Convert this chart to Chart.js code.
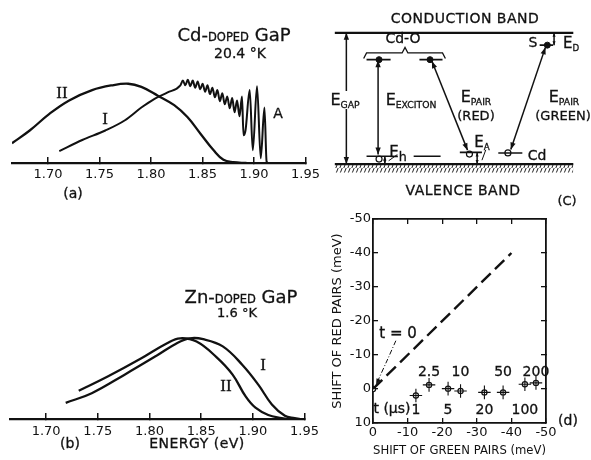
<!DOCTYPE html>
<html>
<head>
<meta charset="utf-8">
<title>GaP pair spectra</title>
<script src="https://cdn.jsdelivr.net/npm/chart.js@4.4.1/dist/chart.umd.min.js"></script>
<style>
  html, body { margin: 0; padding: 0; background: #fff; }
  body { position: relative; width: 591px; height: 460px; overflow: hidden;
         font-family: 'DejaVu Sans', sans-serif; color: #111; }
  canvas { position: absolute; }
  .t { position: absolute; white-space: nowrap; transform: translate(-50%, -50%); line-height: 1;
       z-index: 2; -webkit-text-stroke: 0.3px #111; }
  .sc { font-size: 0.64em; }
  .sub { font-size: 0.58em; position: relative; top: 0.3em; }
  .rom { font-family: 'Liberation Serif', serif; font-size: 17px; }
  .wb { background: #fff; padding: 1px 0; }
</style>
</head>
<body>
<canvas id="chartA" width="330" height="200" style="left:0;top:0"></canvas>
<canvas id="chartB" width="330" height="230" style="left:0;top:230px"></canvas>
<canvas id="chartC" width="271" height="215" style="left:320px;top:0"></canvas>
<canvas id="chartD" width="266" height="260" style="left:325px;top:200px"></canvas>

<!-- (a) -->
<div class="t" style="left:234px;top:35px;font-size:18px">Cd-<span class="sc">DOPED</span> GaP</div>
<div class="t" style="left:240px;top:53px;font-size:14px">20.4 °K</div>
<div class="t rom" style="left:62px;top:92px">II</div>
<div class="t rom" style="left:105px;top:118px">I</div>
<div class="t" style="left:278px;top:113px;font-size:14px">A</div>
<div class="t" style="left:73px;top:193px;font-size:14px">(a)</div>

<!-- (b) -->
<div class="t" style="left:241px;top:297px;font-size:18px">Zn-<span class="sc">DOPED</span> GaP</div>
<div class="t" style="left:237px;top:312px;font-size:13px">1.6 °K</div>
<div class="t rom" style="left:263px;top:364px">I</div>
<div class="t rom" style="left:226px;top:385px">II</div>
<div class="t" style="left:70px;top:443px;font-size:14px">(b)</div>
<div class="t" style="left:197px;top:443px;font-size:14px;letter-spacing:0.5px">ENERGY (eV)</div>

<!-- (c) -->
<div class="t" style="left:465px;top:18px;font-size:14px;letter-spacing:0.5px">CONDUCTION BAND</div>
<div class="t" style="left:403px;top:38px;font-size:14px">Cd-O</div>
<div class="t wb" style="left:345px;top:100px;font-size:16px">E<span class="sub">GAP</span></div>
<div class="t" style="left:411px;top:100px;font-size:16px">E<span class="sub">EXCITON</span></div>
<div class="t" style="left:476px;top:97px;font-size:16px">E<span class="sub">PAIR</span></div>
<div class="t" style="left:476px;top:115px;font-size:13px">(RED)</div>
<div class="t" style="left:564px;top:97px;font-size:16px">E<span class="sub">PAIR</span></div>
<div class="t" style="left:563px;top:115px;font-size:13px">(GREEN)</div>
<div class="t" style="left:398px;top:152px;font-size:15px">E<span class="sub" style="font-size:0.85em">h</span></div>
<div class="t" style="left:482px;top:142px;font-size:15px">E<span class="sub">A</span></div>
<div class="t" style="left:537px;top:155px;font-size:14px">Cd</div>
<div class="t" style="left:533px;top:42px;font-size:14px">S</div>
<div class="t" style="left:571px;top:43px;font-size:15px">E<span class="sub">D</span></div>
<div class="t" style="left:463px;top:190px;font-size:14px;letter-spacing:0.5px">VALENCE BAND</div>
<div class="t" style="left:567px;top:200px;font-size:13px">(C)</div>

<!-- (d) -->
<div class="t" style="left:398px;top:333px;font-size:15px">t = 0</div>
<div class="t" style="left:392px;top:408px;font-size:14px">t (μs)</div>
<div class="t" style="left:568px;top:420px;font-size:14px">(d)</div>

<script>
// ---- panel (a): Cd-doped GaP, 20.4 K ----
const energyTicks = [1.70, 1.75, 1.80, 1.85, 1.90, 1.95];

const energyA_I = [1.7109, 1.7332, 1.7556, 1.7747, 1.7906, 1.8034, 1.8161, 1.8285,
  1.8309, 1.8333, 1.8357, 1.8381, 1.8405, 1.8429, 1.8453, 1.8477, 1.8501, 1.8525,
  1.8548, 1.8572, 1.8596, 1.8620, 1.8644, 1.8668, 1.8692, 1.8716, 1.8740, 1.8764,
  1.8788, 1.8811, 1.8835, 1.8859, 1.8883,
  1.8898, 1.8917, 1.8958, 1.8988, 1.9029, 1.9065, 1.9101, 1.9122, 1.9137];
const intensityA_I = [0.15, 0.29, 0.41, 0.54, 0.70, 0.81, 0.89, 0.98,
  1.04, 0.98, 1.05, 0.97, 1.04, 0.95, 1.03, 0.93, 1.00, 0.90,
  0.98, 0.87, 0.95, 0.83, 0.92, 0.78, 0.88, 0.74, 0.84, 0.69,
  0.82, 0.64, 0.79, 0.59, 0.84,
  0.35, 0.41, 0.92, 0.16, 0.97, 0.06, 0.70, 0.02, 0.00];

const energyA_II = [1.665, 1.6822, 1.7013, 1.7205, 1.7428, 1.7619, 1.7779, 1.7906,
  1.8066, 1.8225, 1.8353, 1.8480, 1.8608, 1.8703, 1.8799, 1.8926];
const intensityA_II = [0.25, 0.41, 0.62, 0.79, 0.92, 0.98, 1.00, 0.96,
  0.85, 0.73, 0.58, 0.37, 0.16, 0.04, 0.01, 0.00];

// ---- panel (b): Zn-doped GaP, 1.6 K ----
const energyB_I = [1.7189, 1.7441, 1.7759, 1.8075, 1.8265, 1.8391, 1.8519, 1.8709,
  1.8899, 1.9056, 1.9184, 1.9310, 1.9405, 1.9453];
const intensityB_I = [0.20, 0.32, 0.55, 0.79, 0.94, 1.00, 0.99, 0.90,
  0.67, 0.42, 0.18, 0.04, 0.01, 0.00];
const energyB_II = [1.7315, 1.7600, 1.7917, 1.8170, 1.8296, 1.8455, 1.8645, 1.8804,
  1.8930, 1.9025, 1.9149, 1.9279, 1.9329];
const intensityB_II = [0.35, 0.53, 0.75, 0.94, 1.00, 0.96, 0.77, 0.55,
  0.28, 0.14, 0.05, 0.01, 0.00];

// ---- panel (c): level scheme (x = schematic position, y = energy above valence band, eV) ----
const bandGap = 2.35;
const bandSpan = [10, 258];
const hatchDepth = -0.15;
const levelNames = ['Cd-O', 'Cd-O', 'Eh', 'Eh', 'EA', 'Cd', 'S'];
const levelStart = [43, 98, 43, 92, 140, 180, 223];
const levelEnd = [68, 122, 70, 120, 163, 205, 237];
const levelEnergy = [1.87, 1.87, 0.14, 0.14, 0.21, 0.20, 2.13];
const electronX = [56, 109, 231];
const electronE = [1.87, 1.87, 2.13];
const holeX = [56, 150, 190];
const holeE = [0.09, 0.18, 0.20];
const transitionNames = ['E GAP', 'E EXCITON', 'E PAIR (RED)', 'E PAIR (GREEN)', 'E h', 'E A', 'E D'];
const transitionX0 = [22, 55, 111, 193, 62, 158, 238];
const transitionE0 = [0, 0.17, 1.84, 0.26, 0.14, 0.21, 2.35];
const transitionX1 = [22, 55, 148, 229, 62, 158, 238];
const transitionE1 = [2.35, 1.86, 0.25, 2.09, 0, 0, 2.13];
const transitionHead = [7, 7, 7, 7, 4, 4, 4];
const braceX = [40, 43, 80, 83, 86, 122, 125];
const braceE = [1.89, 1.99, 1.99, 2.09, 1.99, 1.99, 1.89];
const leaderX = [[75, 66], [167, 163]];
const leaderE = [[0.17, 0.06], [0.255, 0.07]];

// ---- panel (d): shift of red vs green pairs ----
const delayTimes = ['1', '2.5', '5', '10', '20', '50', '100', '200'];
const greenShift = [-12.4, -16.2, -21.7, -25.3, -32.2, -37.6, -43.9, -47.1];
const redShift = [1.9, -1.2, -0.1, 0.6, 1.0, 1.0, -1.4, -1.8];
const greenErr = [1.8, 1.8, 1.8, 1.8, 1.8, 1.8, 1.8, 1.8];
const redErr = [2.0, 2.0, 2.0, 2.0, 2.0, 2.0, 2.0, 2.0];
const fitGreen = [0, -40];
const fitRed = [0, -40];
const arrowGreen = [-6.6, -4.3, -0.9];
const arrowRed = [-14.2, -8.9, -1.3];

const INK = '#111';
Chart.defaults.font.family = "'DejaVu Sans', sans-serif";
Chart.defaults.font.size = 13;
Chart.defaults.color = INK;
Chart.defaults.animation = false;
Chart.defaults.events = [];
Chart.defaults.plugins.legend.display = false;
Chart.defaults.plugins.tooltip.enabled = false;

const pts = (xs, ys) => xs.map((x, i) => ({ x, y: ys[i] }));

function line(points, extra) {
  return Object.assign({
    data: points, showLine: true, borderColor: INK, borderWidth: 2,
    pointRadius: 0, tension: 0
  }, extra);
}

// arrow heads at the ends of datasets that ask for them
const arrowHeads = {
  id: 'arrowHeads',
  afterDatasetsDraw(chart) {
    const ctx = chart.ctx;
    chart.data.datasets.forEach((ds, i) => {
      if (!ds.arrow) return;
      const p = chart.getDatasetMeta(i).data;
      const n = p.length;
      const L = ds.arrowSize || 7, W = L * 0.38;
      const head = (tip, from) => {
        const a = Math.atan2(tip.y - from.y, tip.x - from.x);
        const c = Math.cos(a), s = Math.sin(a);
        ctx.save();
        ctx.fillStyle = INK;
        ctx.beginPath();
        ctx.moveTo(tip.x, tip.y);
        ctx.lineTo(tip.x - L * c + W * s, tip.y - L * s - W * c);
        ctx.lineTo(tip.x - L * c - W * s, tip.y - L * s + W * c);
        ctx.closePath();
        ctx.fill();
        ctx.restore();
      };
      if (ds.arrow === 'end' || ds.arrow === 'both') head(p[n - 1], p[n - 2]);
      if (ds.arrow === 'start' || ds.arrow === 'both') head(p[0], p[1]);
    });
  }
};

function energyAxis(pad) {
  return {
    type: 'linear', min: 1.665, max: 1.95,
    afterBuildTicks: s => { s.ticks = energyTicks.map(v => ({ value: v })); },
    ticks: { callback: v => v.toFixed(2), autoSkip: false, maxRotation: 0, padding: pad },
    grid: { drawOnChartArea: false, tickLength: -6, color: INK, lineWidth: 1.5 },
    border: { color: INK, width: 2.2 },
    afterFit: s => { s.height = 20; }
  };
}

// (a)
new Chart(document.getElementById('chartA'), {
  type: 'scatter',
  data: {
    datasets: [
      line(pts(energyA_II, intensityA_II), { label: 'II', tension: 0.4, borderWidth: 2.3 }),
      line(pts(energyA_I, intensityA_I), { label: 'I', cubicInterpolationMode: 'monotone', borderWidth: 2 })
    ]
  },
  options: {
    responsive: false,
    layout: { padding: { left: 12, right: 20, top: 60, bottom: 17 } },
    scales: {
      x: energyAxis(10),
      y: { display: false, min: 0, max: 1.3 }
    }
  }
});

// (b)
new Chart(document.getElementById('chartB'), {
  type: 'scatter',
  data: {
    datasets: [
      line(pts(energyB_I, intensityB_I), { label: 'I', tension: 0.4, borderWidth: 2.3 }),
      line(pts(energyB_II, intensityB_II), { label: 'II', tension: 0.4, borderWidth: 2.3 })
    ]
  },
  options: {
    responsive: false,
    layout: { padding: { left: 10, right: 20, top: 68, bottom: 21 } },
    scales: {
      x: energyAxis(11),
      y: { display: false, min: 0, max: 1.5 }
    }
  }
});

// (c)
function hatchPattern() {
  const c = document.createElement('canvas');
  c.width = 4; c.height = 6;
  const g = c.getContext('2d');
  g.strokeStyle = '#222';
  g.lineWidth = 1;
  g.beginPath();
  g.moveTo(-1, 8); g.lineTo(3, -2);
  g.moveTo(3, 8); g.lineTo(7, -2);
  g.stroke();
  return g.createPattern(c, 'repeat');
}

const levelSets = levelNames.map((name, i) =>
  line(pts([levelStart[i], levelEnd[i]], [levelEnergy[i], levelEnergy[i]]), { label: name, borderWidth: 1.6 }));
const transitionSets = transitionNames.map((name, i) =>
  line(pts([transitionX0[i], transitionX1[i]], [transitionE0[i], transitionE1[i]]),
    { label: name, borderWidth: 1.5, arrow: 'both', arrowSize: transitionHead[i] }));
const leaderSets = leaderX.map((xs, i) => line(pts(xs, leaderE[i]), { borderWidth: 1 }));

new Chart(document.getElementById('chartC'), {
  type: 'scatter',
  data: {
    datasets: [
      line(pts(bandSpan, [bandGap, bandGap]), { label: 'conduction band', borderWidth: 2.2 }),
      line(pts(bandSpan, [0, 0]), {
        type: 'line', label: 'valence band', borderWidth: 2.2,
        fill: { value: hatchDepth }, backgroundColor: hatchPattern()
      }),
      line(pts(braceX, braceE), { label: 'Cd-O', borderWidth: 1.3 }),
      ...levelSets,
      ...transitionSets,
      ...leaderSets,
      { label: 'electrons', data: pts(electronX, electronE), pointRadius: 3,
        pointBackgroundColor: INK, pointBorderColor: INK },
      { label: 'holes', data: pts(holeX, holeE), pointRadius: 3, pointBorderWidth: 1.2,
        pointBackgroundColor: '#fff', pointBorderColor: INK }
    ]
  },
  options: {
    responsive: false,
    layout: { padding: 0 },
    scales: {
      x: { display: false, min: 0, max: 271 },
      y: { display: false, min: -0.818, max: 2.845 }
    }
  },
  plugins: [arrowHeads]
});

// (d)
const hBars = [], vBars = [];
greenShift.forEach((g, i) => {
  hBars.push({ x: g - greenErr[i], y: redShift[i] }, { x: g + greenErr[i], y: redShift[i] }, { x: g, y: null });
  vBars.push({ x: g, y: redShift[i] - redErr[i] }, { x: g, y: redShift[i] + redErr[i] }, { x: g, y: null });
});

const boxAxis = (pos, extra) => Object.assign({
  position: pos, min: -50, max: pos === 'top' || pos === 'bottom' ? 0 : 10, reverse: true,
  ticks: { stepSize: 10, display: false },
  grid: { drawOnChartArea: false, tickLength: -5, color: INK, lineWidth: 1.3 },
  border: { color: INK, width: 1.8 }
}, extra);

const chartD = new Chart(document.getElementById('chartD'), {
  type: 'scatter',
  data: {
    datasets: [
      line(pts(fitGreen, fitRed), { label: 'slope 1', borderWidth: 2.4, borderDash: [13, 6] }),
      line(pts(arrowGreen, arrowRed), { label: 't = 0', borderWidth: 1, borderDash: [5, 2, 1, 2],
        tension: 0.3, arrow: 'end', arrowSize: 6 }),
      line(hBars, { label: 'green error', borderWidth: 1.1 }),
      line(vBars, { label: 'red error', borderWidth: 1.1 }),
      { label: 'origin', data: [{ x: 0, y: 0 }], pointRadius: 2.6, pointBorderWidth: 1.2,
        pointBackgroundColor: '#fff', pointBorderColor: INK },
      { label: 'delay', data: pts(greenShift, redShift), pointRadius: 2.6, pointBorderWidth: 1.2,
        pointBackgroundColor: '#fff', pointBorderColor: INK }
    ]
  },
  options: {
    responsive: false,
    layout: { padding: { left: 0, top: 19, right: 45, bottom: 0 } },
    scales: {
      x: boxAxis('bottom', {
        ticks: { stepSize: 10, padding: 7, maxRotation: 0, font: { size: 13 } },
        title: { display: true, text: 'SHIFT OF GREEN PAIRS (meV)', padding: { top: 0, bottom: 2 }, font: { size: 13 } },
        afterFit: s => { s.height = 37; }
      }),
      x2: boxAxis('top', { afterFit: s => { s.height = 0; } }),
      y: boxAxis('left', {
        ticks: { stepSize: 10, padding: 7, font: { size: 13 } },
        title: { display: true, text: 'SHIFT OF RED PAIRS (meV)', padding: { top: 5, bottom: 0 }, font: { size: 13 } },
        afterFit: s => { s.width = 48; }
      }),
      y2: boxAxis('right', { afterFit: s => { s.width = 0; } })
    }
  },
  plugins: [arrowHeads]
});

// delay-time labels, alternately above and below the points
const sx = chartD.scales.x, sy = chartD.scales.y;
delayTimes.forEach((t, i) => {
  const div = document.createElement('div');
  div.className = 't';
  div.style.fontSize = '14px';
  div.textContent = t;
  div.style.left = (325 + sx.getPixelForValue(greenShift[i])) + 'px';
  div.style.top = (200 + sy.getPixelForValue(i % 2 ? -5.4 : 5.8)) + 'px';
  document.body.appendChild(div);
});
</script>
</body>
</html>
